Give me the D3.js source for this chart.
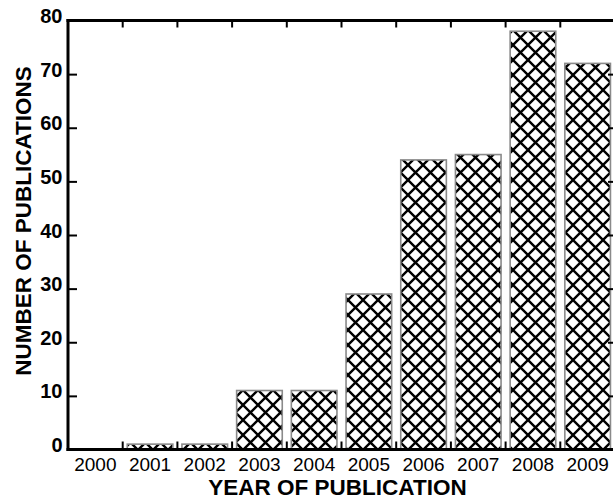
<!DOCTYPE html>
<html>
<head>
<meta charset="utf-8">
<script src="https://cdn.jsdelivr.net/npm/d3@7"></script>
<style>
  html, body { margin: 0; padding: 0; background: #fff; }
  svg { display: block; font-family: "Liberation Sans", Arial, Helvetica, sans-serif; }
</style>
</head>
<body>
<svg id="chart" width="613" height="499"></svg>
<script>
// Publications per year
const years = ["2000", "2001", "2002", "2003", "2004", "2005", "2006", "2007", "2008", "2009"];
const counts = [0, 1, 1, 11, 11, 29, 54, 55, 78, 72];
const yTicks = [0, 10, 20, 30, 40, 50, 60, 70, 80];

const svg = d3.select("#chart");
const plotL = 68, plotR = 615, plotT = 20.5, plotB = 449.5;

const x = d3.scaleBand().domain(years).range([plotL, plotR]).paddingInner(0.166).paddingOuter(0.083);
const xEdge = d3.scaleLinear().domain([0, years.length]).range([plotL, plotR]);
const y = d3.scaleLinear().domain([0, 80]).range([plotB, plotT]);

// Cross-hatch fill
const defs = svg.append("defs");
const pat = defs.append("pattern")
  .attr("id", "xhatch")
  .attr("patternUnits", "userSpaceOnUse")
  .attr("width", 15).attr("height", 15)
  .attr("x", 3).attr("y", 0);
pat.append("rect").attr("width", 15).attr("height", 15).attr("fill", "#fff");
pat.append("path")
  .attr("d", "M-15,0L15,30M0,0L15,15M0,-15L30,15M0,15L15,0M-15,15L15,-15M0,30L30,0")
  .attr("stroke", "#000").attr("stroke-width", 2.4).attr("fill", "none");

// Bars
svg.append("g").selectAll("rect")
  .data(years.map((yr, i) => ({ yr, v: counts[i] })).filter(d => d.v > 0))
  .join("rect")
  .attr("x", d => x(d.yr))
  .attr("y", d => y(d.v))
  .attr("width", x.bandwidth())
  .attr("height", d => y(0) - y(d.v))
  .attr("fill", "url(#xhatch)")
  .attr("stroke", "#8a8a8a")
  .attr("stroke-width", 1.6);

// Frame
const frame = svg.append("g").attr("stroke", "#000").attr("stroke-width", 3).attr("fill", "none");
frame.append("line").attr("x1", plotL).attr("x2", plotL).attr("y1", plotT - 1.5).attr("y2", plotB + 1.5);
frame.append("line").attr("x1", plotL - 1.5).attr("x2", plotR + 1.5).attr("y1", plotB).attr("y2", plotB);
frame.append("line").attr("x1", plotL - 1.5).attr("x2", plotR + 1.5).attr("y1", plotT).attr("y2", plotT);
frame.append("line").attr("x1", plotR).attr("x2", plotR).attr("y1", plotT - 1.5).attr("y2", plotB + 1.5);

// Left axis with labels, ticks pointing inward
const yAxis = svg.append("g")
  .attr("transform", `translate(${plotL},0)`)
  .call(d3.axisLeft(y).tickValues(yTicks).tickSize(-9).tickPadding(5.5).tickSizeOuter(0));
yAxis.select(".domain").remove();
yAxis.selectAll(".tick line").attr("stroke", "#000").attr("stroke-width", 2);
yAxis.selectAll(".tick text")
  .attr("fill", "#000").attr("font-size", 20).attr("font-weight", "bold")
  .attr("dy", "0.1em")
  .style("font-family", "'Liberation Sans', Arial, sans-serif");

// Right axis ticks
const yAxisR = svg.append("g")
  .attr("transform", `translate(${plotR},0)`)
  .call(d3.axisRight(y).tickValues(yTicks).tickSize(-7).tickFormat("").tickSizeOuter(0));
yAxisR.select(".domain").remove();
yAxisR.selectAll(".tick line").attr("stroke", "#000").attr("stroke-width", 2);

// Bottom labels at category centres
const xAxis = svg.append("g")
  .attr("transform", `translate(0,${plotB})`)
  .call(d3.axisBottom(x).tickSize(0).tickPadding(8));
xAxis.select(".domain").remove();
xAxis.selectAll(".tick text")
  .attr("fill", "#000").attr("font-size", 19)
  .style("font-family", "'Liberation Sans', Arial, sans-serif");

// Boundary ticks on bottom and top edges
const edges = d3.range(1, years.length);
svg.append("g").selectAll("line").data(edges).join("line")
  .attr("x1", d => xEdge(d)).attr("x2", d => xEdge(d))
  .attr("y1", plotB).attr("y2", plotB - 8)
  .attr("stroke", "#000").attr("stroke-width", 2);
svg.append("g").selectAll("line").data(edges).join("line")
  .attr("x1", d => xEdge(d)).attr("x2", d => xEdge(d))
  .attr("y1", plotT).attr("y2", plotT + 7)
  .attr("stroke", "#000").attr("stroke-width", 2);

// Axis titles
svg.append("text")
  .attr("x", 337.5).attr("y", 495)
  .attr("text-anchor", "middle")
  .attr("font-size", 22.5).attr("font-weight", "bold")
  .text("YEAR OF PUBLICATION");

svg.append("text")
  .attr("transform", "translate(31,221) rotate(-90)")
  .attr("text-anchor", "middle")
  .attr("font-size", 22.5).attr("font-weight", "bold")
  .text("NUMBER OF PUBLICATIONS");
</script>
</body>
</html>
